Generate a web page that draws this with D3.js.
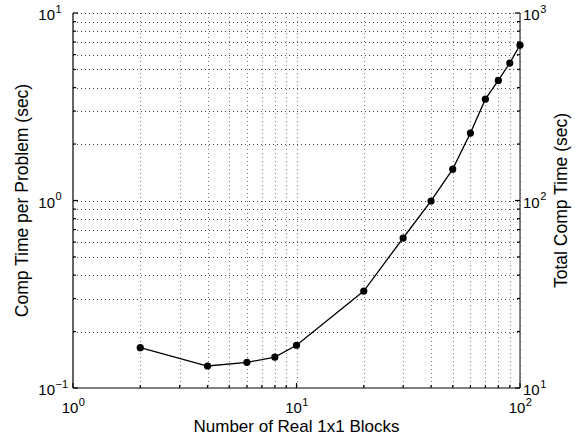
<!DOCTYPE html>
<html><head><meta charset="utf-8">
<script src="https://cdn.jsdelivr.net/npm/d3@7"></script>
<style>body{margin:0;background:#fff}svg{display:block}text{font-family:"Liberation Sans",Arial,sans-serif;fill:#000}</style>
</head><body>
<svg id="c" width="584" height="440"></svg>
<script>
const blocks = [2, 4, 6, 8, 10, 20, 30, 40, 50, 60, 70, 80, 90, 100];
const timePerProblem = [0.164, 0.131, 0.137, 0.146, 0.169, 0.329, 0.631, 0.994, 1.47, 2.29, 3.47, 4.37, 5.41, 6.74];
const xTickExp = [0, 1, 2];
const yLeftTickExp = [-1, 0, 1];
const yRightTickExp = [1, 2, 3];
const xLabel = "Number of Real 1x1 Blocks";
const yLeftLabel = "Comp Time per Problem (sec)";
const yRightLabel = "Total Comp Time (sec)";

const m = {l: 73, r: 520, t: 13, b: 388};
const svg = d3.select("#c");
const x = d3.scaleLog().domain([1, 100]).range([m.l, m.r]);
const yL = d3.scaleLog().domain([0.1, 10]).range([m.b, m.t]);
const yR = d3.scaleLog().domain([10, 1000]).range([m.b, m.t]);

const xt = x.ticks(), ylt = yL.ticks(), yrt = yR.ticks();
const isMajor = v => Math.abs(Math.log10(v) - Math.round(Math.log10(v))) < 1e-9;

const g = svg.append("g");
// grid
g.selectAll("line.gx").data(xt.filter(v => v > 1)).join("line")
  .attr("x1", d => Math.round(x(d)) + 0.5).attr("x2", d => Math.round(x(d)) + 0.5).attr("y1", m.t).attr("y2", m.b)
  .attr("stroke", "#777").attr("stroke-width", 1).attr("stroke-dasharray", "1,3");
g.selectAll("line.gy").data(ylt.filter(v => v > 0.1)).join("line")
  .attr("x1", m.l).attr("x2", m.r).attr("y1", d => Math.round(yL(d)) + 0.5).attr("y2", d => Math.round(yL(d)) + 0.5)
  .attr("stroke", "#444").attr("stroke-width", 1).attr("stroke-dasharray", "1,3");

// axes lines
const ax = svg.append("g").attr("stroke", "#000").attr("stroke-width", 1.2);
ax.append("line").attr("x1", m.l).attr("x2", m.l).attr("y1", m.t).attr("y2", m.b);
ax.append("line").attr("x1", m.l).attr("x2", m.r).attr("y1", m.b).attr("y2", m.b);
ax.append("line").attr("x1", m.r).attr("x2", m.r).attr("y1", m.t).attr("y2", m.b).attr("stroke", "#333");

// ticks
ax.selectAll("line.tx").data(xt).join("line")
  .attr("x1", d => x(d)).attr("x2", d => x(d)).attr("y1", m.b).attr("y2", d => m.b - (isMajor(d) ? 5 : 3));
ax.selectAll("line.tyl").data(ylt).join("line")
  .attr("x1", m.l).attr("x2", d => m.l + (isMajor(d) ? 5 : 3)).attr("y1", d => yL(d)).attr("y2", d => yL(d));
ax.selectAll("line.tyr").data(yrt).join("line")
  .attr("x1", m.r).attr("x2", d => m.r - (isMajor(d) ? 5 : 3)).attr("y1", d => yR(d)).attr("y2", d => yR(d));

// power-of-ten label: "10" placed by anchor, exponent placed right after it
function powLabel(xp, yp, e, anchor) {
  const base = svg.append("text").attr("x", xp).attr("y", yp).attr("text-anchor", anchor).attr("font-size", 15).text("10");
  const bb = base.node().getBBox();
  svg.append("text").attr("x", bb.x + bb.width + 0.5).attr("y", yp - 7.5).attr("font-size", 11)
    .text(e < 0 ? "\u2212" + (-e) : String(e));
}
xTickExp.forEach(e => powLabel(x(Math.pow(10, e)) - 3, 413, e, "middle"));
yLeftTickExp.forEach(e => powLabel(m.l - 18, yL(Math.pow(10, e)) + 7, e, "end"));
yRightTickExp.forEach(e => powLabel(m.r + 3, yR(Math.pow(10, e)) + 7, e, "start"));

// axis labels
svg.append("text").attr("x", (m.l + m.r) / 2).attr("y", 432).attr("text-anchor", "middle").attr("font-size", 17).text(xLabel);
svg.append("text").attr("transform", `translate(28,${(m.t + m.b) / 2}) rotate(-90)`).attr("text-anchor", "middle").attr("font-size", 17.5).text(yLeftLabel);
svg.append("text").attr("transform", `translate(567,${(m.t + m.b) / 2}) rotate(-90)`).attr("text-anchor", "middle").attr("font-size", 17.5).text(yRightLabel);

// data
const line = d3.line().x((d, i) => x(blocks[i])).y(d => yL(d));
svg.append("path").datum(timePerProblem).attr("d", line).attr("fill", "none").attr("stroke", "#000").attr("stroke-width", 1.3);
svg.selectAll("circle").data(timePerProblem).join("circle")
  .attr("cx", (d, i) => x(blocks[i])).attr("cy", d => yL(d)).attr("r", 3.6).attr("fill", "#000");
</script>
</body></html>
